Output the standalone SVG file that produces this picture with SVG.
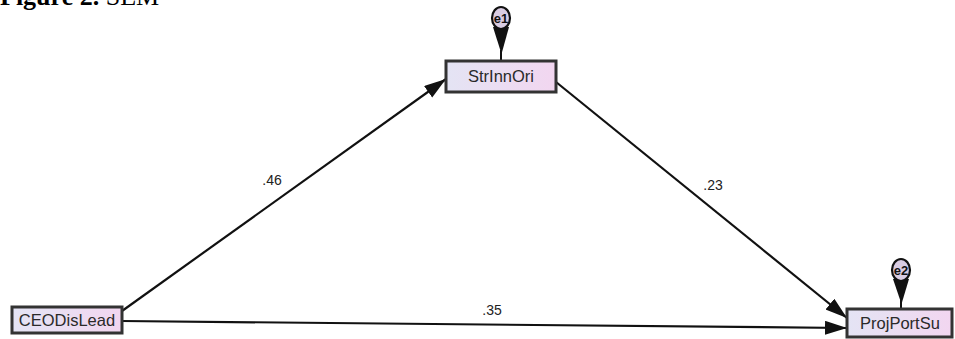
<svg xmlns="http://www.w3.org/2000/svg" width="955" height="339" viewBox="0 0 955 339">
<style>
.box{fill:url(#g);stroke:#333;stroke-width:3}
.lbl{font-family:"Liberation Sans",Arial,sans-serif;font-size:16.5px;fill:#2a2a2a;text-anchor:middle}
.w{font-family:"Liberation Sans",Arial,sans-serif;font-size:14px;fill:#222;text-anchor:middle}
.c{stroke:#111;stroke-width:2.2;fill:none;marker-end:url(#ah)}
.err{fill:#d9cce2;stroke:#111;stroke-width:2.2}
.et{font-family:"Liberation Sans",Arial,sans-serif;font-size:13px;font-weight:bold;fill:#111;text-anchor:middle}
</style>
<defs>
<linearGradient id="g" x1="0" y1="0" x2="1" y2="0">
<stop offset="0" stop-color="#e4e4f4"/>
<stop offset="1" stop-color="#f2d6f0"/>
</linearGradient>
<marker id="ah" markerUnits="userSpaceOnUse" markerWidth="24" markerHeight="16" refX="22" refY="7" orient="auto">
<path d="M0,0 L22,7 L0,14 Z" fill="#111"/>
</marker>
</defs>
<rect width="955" height="339" fill="#fff"/>
<text x="0" y="5" font-family="Liberation Serif,Times New Roman,serif" font-size="26" fill="#000"><tspan font-weight="bold">Figure 2.</tspan> SEM</text>
<g id="connectors">
<line class="c" x1="122" y1="311" x2="446" y2="79"/>
<line class="c" x1="556" y1="82" x2="847" y2="318"/>
<line class="c" x1="122" y1="321" x2="847" y2="328"/>
<text class="w" x="272" y="185">.46</text>
<text class="w" x="713" y="190">.23</text>
<text class="w" x="492" y="315">.35</text>
</g>
<g id="e1">
<path d="M493,27 L509,27 L501.5,54 Z" fill="#111"/>
<line x1="501" y1="50" x2="501" y2="61" stroke="#111" stroke-width="2"/>
<ellipse class="err" cx="501" cy="18" rx="9" ry="11"/>
<text class="et" x="501" y="23">e1</text>
</g>
<g id="e2">
<path d="M893,279 L909,279 L901.5,304 Z" fill="#111"/>
<line x1="901" y1="300" x2="901" y2="309" stroke="#111" stroke-width="2"/>
<ellipse class="err" cx="901" cy="270" rx="9" ry="11"/>
<text class="et" x="901" y="275">e2</text>
</g>
<g id="StrInnOri">
<rect class="box" x="446" y="61" width="110" height="31"/>
<text class="lbl" x="501" y="82">StrInnOri</text>
</g>
<g id="CEODisLead">
<rect class="box" x="12" y="307" width="110" height="26"/>
<text class="lbl" x="67" y="326">CEODisLead</text>
</g>
<g id="ProjPortSu">
<rect class="box" x="847" y="309" width="105" height="28"/>
<text class="lbl" x="900" y="329">ProjPortSu</text>
</g>
</svg>
